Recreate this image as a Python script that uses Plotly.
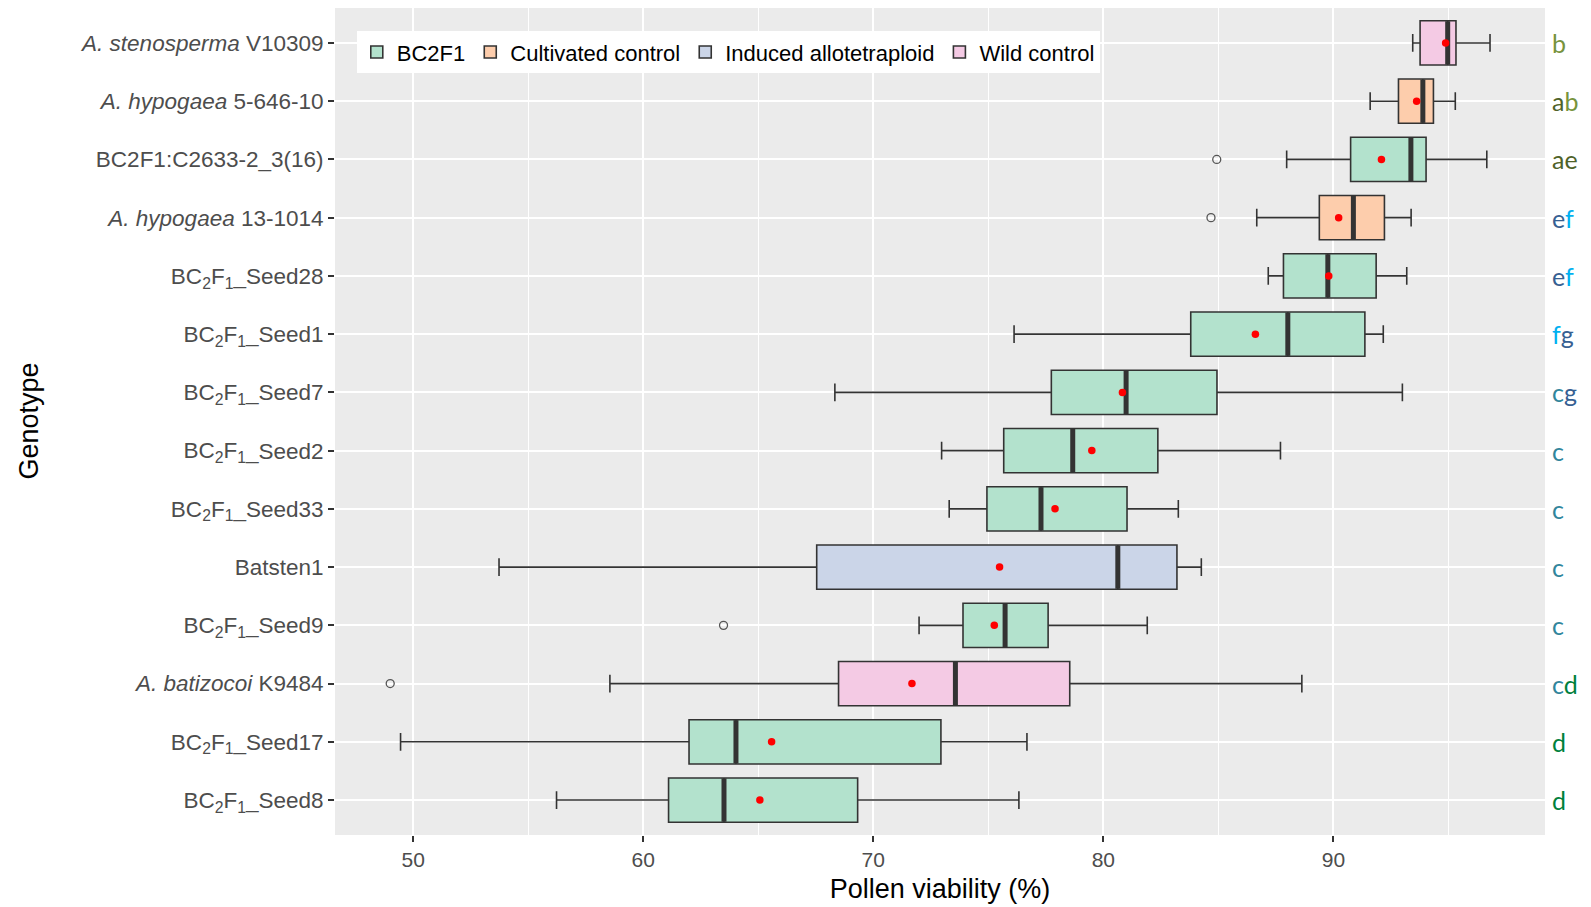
import plotly.graph_objects as go

# ---------------- data ----------------
genotype_ids = ["V10309", "5-646-10", "C2633", "13-1014", "Seed28", "Seed1", "Seed7",
                "Seed2", "Seed33", "Batsten1", "Seed9", "K9484", "Seed17", "Seed8"]
genotype_labels = [
    "<i>A. stenosperma</i> V10309",
    "<i>A. hypogaea</i> 5-646-10",
    "BC2F1:C2633-2_3(16)",
    "<i>A. hypogaea</i> 13-1014",
    "BC<sub>2</sub>F<sub>1</sub>_Seed28",
    "BC<sub>2</sub>F<sub>1</sub>_Seed1",
    "BC<sub>2</sub>F<sub>1</sub>_Seed7",
    "BC<sub>2</sub>F<sub>1</sub>_Seed2",
    "BC<sub>2</sub>F<sub>1</sub>_Seed33",
    "Batsten1",
    "BC<sub>2</sub>F<sub>1</sub>_Seed9",
    "<i>A. batizocoi</i> K9484",
    "BC<sub>2</sub>F<sub>1</sub>_Seed17",
    "BC<sub>2</sub>F<sub>1</sub>_Seed8",
]
genotype_group = ["Wild control", "Cultivated control", "BC2F1", "Cultivated control",
                  "BC2F1", "BC2F1", "BC2F1", "BC2F1", "BC2F1", "Induced allotetraploid",
                  "BC2F1", "Wild control", "BC2F1", "BC2F1"]

lower_whisker = [93.45, 91.6, 87.97, 86.67, 87.17, 76.12, 68.33, 72.97, 73.3, 53.73, 71.99, 58.55, 49.45, 56.23]
q1_values     = [93.77, 92.83, 90.75, 89.39, 87.83, 83.8, 77.74, 75.67, 74.94, 67.54, 73.9, 68.49, 61.99, 61.1]
median_values = [94.97, 93.89, 93.37, 90.87, 89.76, 88.02, 80.99, 78.67, 77.29, 80.63, 75.73, 73.57, 64.03, 63.51]
q3_values     = [95.33, 94.35, 94.03, 92.22, 91.86, 91.37, 84.94, 82.37, 81.03, 83.2, 77.6, 78.54, 72.94, 69.32]
upper_whisker = [96.81, 95.3, 96.67, 93.38, 93.19, 92.17, 93.0, 87.7, 83.26, 84.26, 81.91, 88.63, 76.68, 76.33]
mean_values   = [94.88, 93.62, 92.09, 90.23, 89.8, 86.61, 80.83, 79.5, 77.9, 75.49, 75.26, 71.68, 65.58, 65.07]

outlier_genotype = ["C2633", "13-1014", "Seed9", "K9484"]
outlier_values = [84.93, 84.68, 63.49, 49.0]

group_names = ["BC2F1", "Cultivated control", "Induced allotetraploid", "Wild control"]
group_colors = ["#B3E2CD", "#FDCDAC", "#CBD5E8", "#F4CAE4"]

# significance letters: list of (letter, colour) pieces per genotype
C_OLIVE = "#77933C"
C_DKOLIVE = "#4F6228"
C_DKBLUE = "#366092"
C_CYAN = "#00B0F0"
C_TEAL = "#31859C"
C_GREEN = "#00803C"
sig_letters = [
    [("b", C_OLIVE)],
    [("a", C_DKOLIVE), ("b", C_OLIVE)],
    [("a", C_DKOLIVE), ("e", C_DKOLIVE)],
    [("e", C_DKBLUE), ("f", C_CYAN)],
    [("e", C_DKBLUE), ("f", C_CYAN)],
    [("f", C_CYAN), ("g", C_DKBLUE)],
    [("c", C_TEAL), ("g", C_DKBLUE)],
    [("c", C_TEAL)],
    [("c", C_TEAL)],
    [("c", C_TEAL)],
    [("c", C_TEAL)],
    [("c", C_TEAL), ("d", C_GREEN)],
    [("d", C_GREEN)],
    [("d", C_GREEN)],
]

x_tick_values = [50, 60, 70, 80, 90]

# ---------------- figure ----------------
FONT = "Liberation Sans, Arial, Helvetica, sans-serif"
fig = go.Figure()

for gname, gcol in zip(group_names, group_colors):
    idx = [i for i, g in enumerate(genotype_group) if g == gname]
    fig.add_trace(go.Box(
        orientation="h",
        name=gname,
        y=[genotype_ids[i] for i in idx],
        q1=[q1_values[i] for i in idx],
        median=[median_values[i] for i in idx],
        q3=[q3_values[i] for i in idx],
        lowerfence=[lower_whisker[i] for i in idx],
        upperfence=[upper_whisker[i] for i in idx],
        fillcolor=gcol,
        line=dict(color="#333333", width=1.6),
        whiskerwidth=0.4,
        width=0.76,
        boxpoints=False,
        hoverinfo="skip",
    ))

# thick median bars (line-ns marker length = 1.4 * size)
fig.add_trace(go.Scatter(
    x=median_values, y=genotype_ids, mode="markers", showlegend=False,
    marker=dict(symbol="line-ns", size=31, color="#333333",
                line=dict(color="#333333", width=5)),
    hoverinfo="skip",
))
# means
fig.add_trace(go.Scatter(
    x=mean_values, y=genotype_ids, mode="markers", showlegend=False,
    marker=dict(symbol="circle", size=7.5, color="#FF0000", line=dict(width=0)),
    hoverinfo="skip",
))
# outliers
fig.add_trace(go.Scatter(
    x=outlier_values, y=outlier_genotype, mode="markers", showlegend=False,
    marker=dict(symbol="circle-open", size=8, color="#555555", line=dict(width=1.3)),
    hoverinfo="skip",
))

annotations = []
for gid, pieces in zip(genotype_ids, sig_letters):
    txt = "".join(f'<span style="color:{c}">{t}</span>' for t, c in pieces)
    annotations.append(dict(
        x=1, xref="paper", y=gid, yref="y", text=txt, showarrow=False,
        xanchor="left", yanchor="middle", xshift=5,
        font=dict(family="Lato, Carlito, Open Sans, sans-serif", size=25),
    ))
annotations.append(dict(
    x=0, xref="paper", y=0.5, yref="paper", text="Genotype", showarrow=False,
    textangle=-90, xanchor="center", yanchor="middle", xshift=-307,
    font=dict(family=FONT, size=27, color="#000000"),
))

n = len(genotype_ids)
fig.update_layout(
    width=1591, height=907,
    margin=dict(l=335, r=46, t=8, b=72, autoexpand=False),
    paper_bgcolor="#FFFFFF",
    plot_bgcolor="#EBEBEB",
    boxmode="overlay",
    font=dict(family=FONT, color="#4D4D4D"),
    showlegend=True,
    legend=dict(
        orientation="h", x=0.018, y=0.972, xanchor="left", yanchor="top",
        bgcolor="#FFFFFF", borderwidth=0,
        font=dict(family=FONT, size=22, color="#000000"),
        itemwidth=30, tracegroupgap=0,
    ),
    annotations=annotations,
    xaxis=dict(
        range=[46.6, 99.2],
        tickvals=x_tick_values,
        ticks="outside", ticklen=6, tickwidth=1.5, tickcolor="#333333",
        tickfont=dict(family=FONT, size=21, color="#4D4D4D"),
        showgrid=True, gridcolor="#FFFFFF", gridwidth=2,
        minor=dict(dtick=5, tick0=45, showgrid=True, gridcolor="#FFFFFF", gridwidth=1, ticks=""),
        zeroline=False, showline=False,
        title=dict(text="Pollen viability (%)", standoff=8,
                   font=dict(family=FONT, size=27, color="#000000")),
        automargin=False,
    ),
    yaxis=dict(
        type="category",
        categoryorder="array", categoryarray=genotype_ids,
        range=[n - 0.4, -0.6],
        tickvals=genotype_ids, ticktext=genotype_labels,
        ticks="outside", ticklen=6, tickwidth=1.5, tickcolor="#333333",
        tickfont=dict(family=FONT, size=22.5, color="#4D4D4D"),
        showgrid=True, gridcolor="#FFFFFF", gridwidth=2,
        zeroline=False, showline=False,
        automargin=False,
    ),
)

fig.write_html("out.html", config={"displayModeBar": False},
               post_script="document.body.style.margin='0';")
